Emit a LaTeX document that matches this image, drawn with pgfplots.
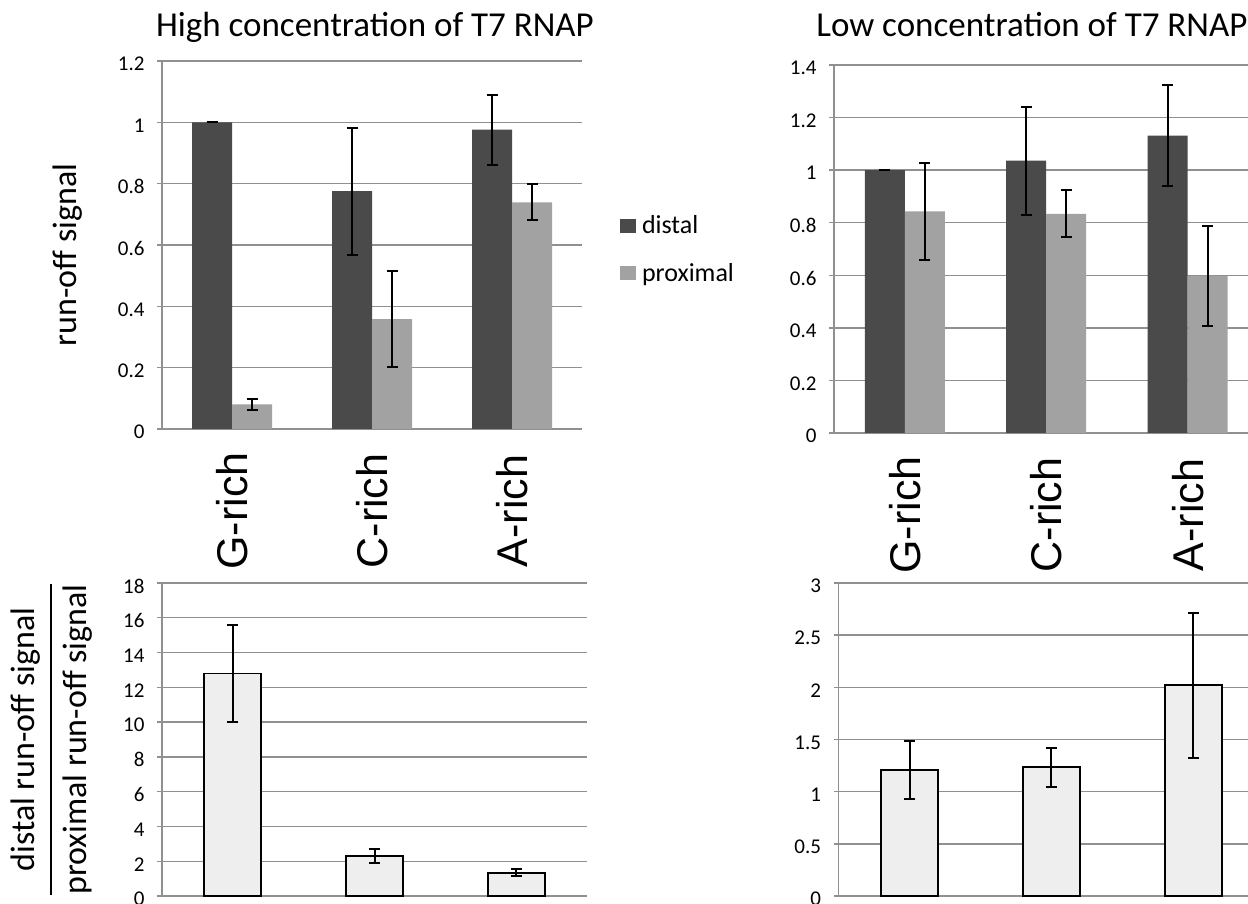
\documentclass[border=0pt]{standalone}
\usepackage{pgfplots}
\pgfplotsset{compat=1.18}
\usepackage{fontspec}
\setmainfont{Carlito}
\newfontfamily\arialf{Liberation Sans}
\definecolor{dist}{HTML}{4A4A4A}
\definecolor{prox}{HTML}{A2A2A2}
\definecolor{ratio}{HTML}{EEEEEE}
\definecolor{gridc}{HTML}{909090}
\pgfplotsset{
  common/.style={
    scale only axis,
    axis x line=bottom, axis y line=left,
    axis line style={-, draw=gridc, line width=1.4pt},
    ymajorgrids, grid style={draw=gridc, line width=1.4pt},
    tick align=outside, major tick length=5pt,
    ytick style={draw=gridc, line width=1.4pt},
    xtick style={draw=none},
    xmin=-0.5, xtick={0,1,2}, ymin=0,
    /pgf/number format/assume math mode=true,
    /pgf/number format/fixed,
    yticklabel style={font=\fontsize{21}{22}\selectfont, text=black, xshift=-9pt, yshift=-3pt},
    error bars/error bar style={line width=2pt, black},
    error bars/error mark options={rotate=90, mark size=5.5pt, line width=2pt, black},
    title style={anchor=base, font=\fontsize{35}{40}\selectfont},
    clip=false,
  },
  cats/.style={
    xticklabels={G-rich,C-rich,A-rich},
    xticklabel style={font=\arialf\fontsize{43}{45}\selectfont, yshift=-77pt, rotate=90, anchor=center},
  },
}
\begin{document}
\begin{tikzpicture}
\path[use as bounding box] (0pt,0pt) rectangle (1248pt,903pt);
% ---------------- top left
\begin{axis}[common, cats, at={(162pt,474pt)}, anchor=south west,
  width=420pt, height=368pt, xmax=2.5, ymax=1.2,
  ytick={0,0.2,0.4,0.6,0.8,1,1.2},
  ybar=0pt, bar width=40pt,
  title={High concentration of T7 RNAP},
  title style={at={(axis description cs:0.507,1)}, yshift=18pt},
  ylabel={run-off signal},
  ylabel style={at={(axis description cs:-0.224,0.473)}, anchor=center, font=\fontsize{34}{40}\selectfont},
  legend style={at={(axis description cs:1.09,0.585)}, anchor=north west, draw=none, fill=none,
    font=\fontsize{26}{28}\selectfont, row sep=24pt, inner sep=0pt,
    nodes={inner xsep=6pt}},
  legend cell align=left,
  legend image code/.code={\fill[#1] (0pt,-7pt) rectangle (16pt,7pt);},
]
\addplot[fill=dist, draw=none, error bars/.cd, y dir=both, y explicit]
  coordinates {(0,1.000) +- (0,0.000) (1,0.776) +- (0,0.207) (2,0.976) +- (0,0.114)};
\addplot[fill=prox, draw=none, error bars/.cd, y dir=both, y explicit]
  coordinates {(0,0.080) +- (0,0.018) (1,0.358) +- (0,0.157) (2,0.739) +- (0,0.059)};
\legend{distal,proximal}
\end{axis}
% ---------------- top right
\begin{axis}[common, cats, at={(834pt,470pt)}, anchor=south west,
  width=414pt, height=368pt, xmax=2.426, ymax=1.4,
  ytick={0,0.2,0.4,0.6,0.8,1,1.2,1.4},
  ybar=0pt, bar width=40pt,
  title={Low concentration of T7 RNAP},
  title style={at={(axis description cs:0.478,1)}, yshift=22pt},
]
\addplot[fill=dist, draw=none, error bars/.cd, y dir=both, y explicit]
  coordinates {(0,1.000) +- (0,0.000) (1,1.036) +- (0,0.206) (2,1.131) +- (0,0.191)};
\addplot[fill=prox, draw=none, error bars/.cd, y dir=both, y explicit]
  coordinates {(0,0.843) +- (0,0.183) (1,0.834) +- (0,0.089) (2,0.597) +- (0,0.191)};
\end{axis}
% ---------------- bottom left
\begin{axis}[common, at={(162pt,7pt)}, anchor=south west,
  width=425pt, height=313pt, xmax=2.5, ymax=18,
  ytick={0,2,4,6,8,10,12,14,16,18}, xticklabels={},
  ylabel={\fontsize{34}{50}\selectfont\setlength{\arrayrulewidth}{1.8pt}%
    \begin{tabular}{@{}c@{}}distal run-off signal\\\hline proximal run-off signal\end{tabular}},
  ylabel style={at={(axis description cs:-0.262,0.5)}, anchor=center},
]
\addplot[ybar, bar width=57pt, fill=ratio, draw=black, line width=1.8pt,
  error bars/.cd, y dir=both, y explicit]
  coordinates {(0,12.80) +- (0,2.77) (1,2.30) +- (0,0.42) (2,1.34) +- (0,0.19)};
\end{axis}
% ---------------- bottom right
\begin{axis}[common, at={(838.5pt,7pt)}, anchor=south west,
  width=409.5pt, height=313pt, xmax=2.384, ymax=3,
  ytick={0,0.5,1,1.5,2,2.5,3}, xticklabels={},
]
\addplot[ybar, bar width=57pt, fill=ratio, draw=black, line width=1.8pt,
  error bars/.cd, y dir=both, y explicit]
  coordinates {(0,1.208) +- (0,0.281) (1,1.233) +- (0,0.187) (2,2.022) +- (0,0.695)};
\end{axis}
\end{tikzpicture}
\end{document}
